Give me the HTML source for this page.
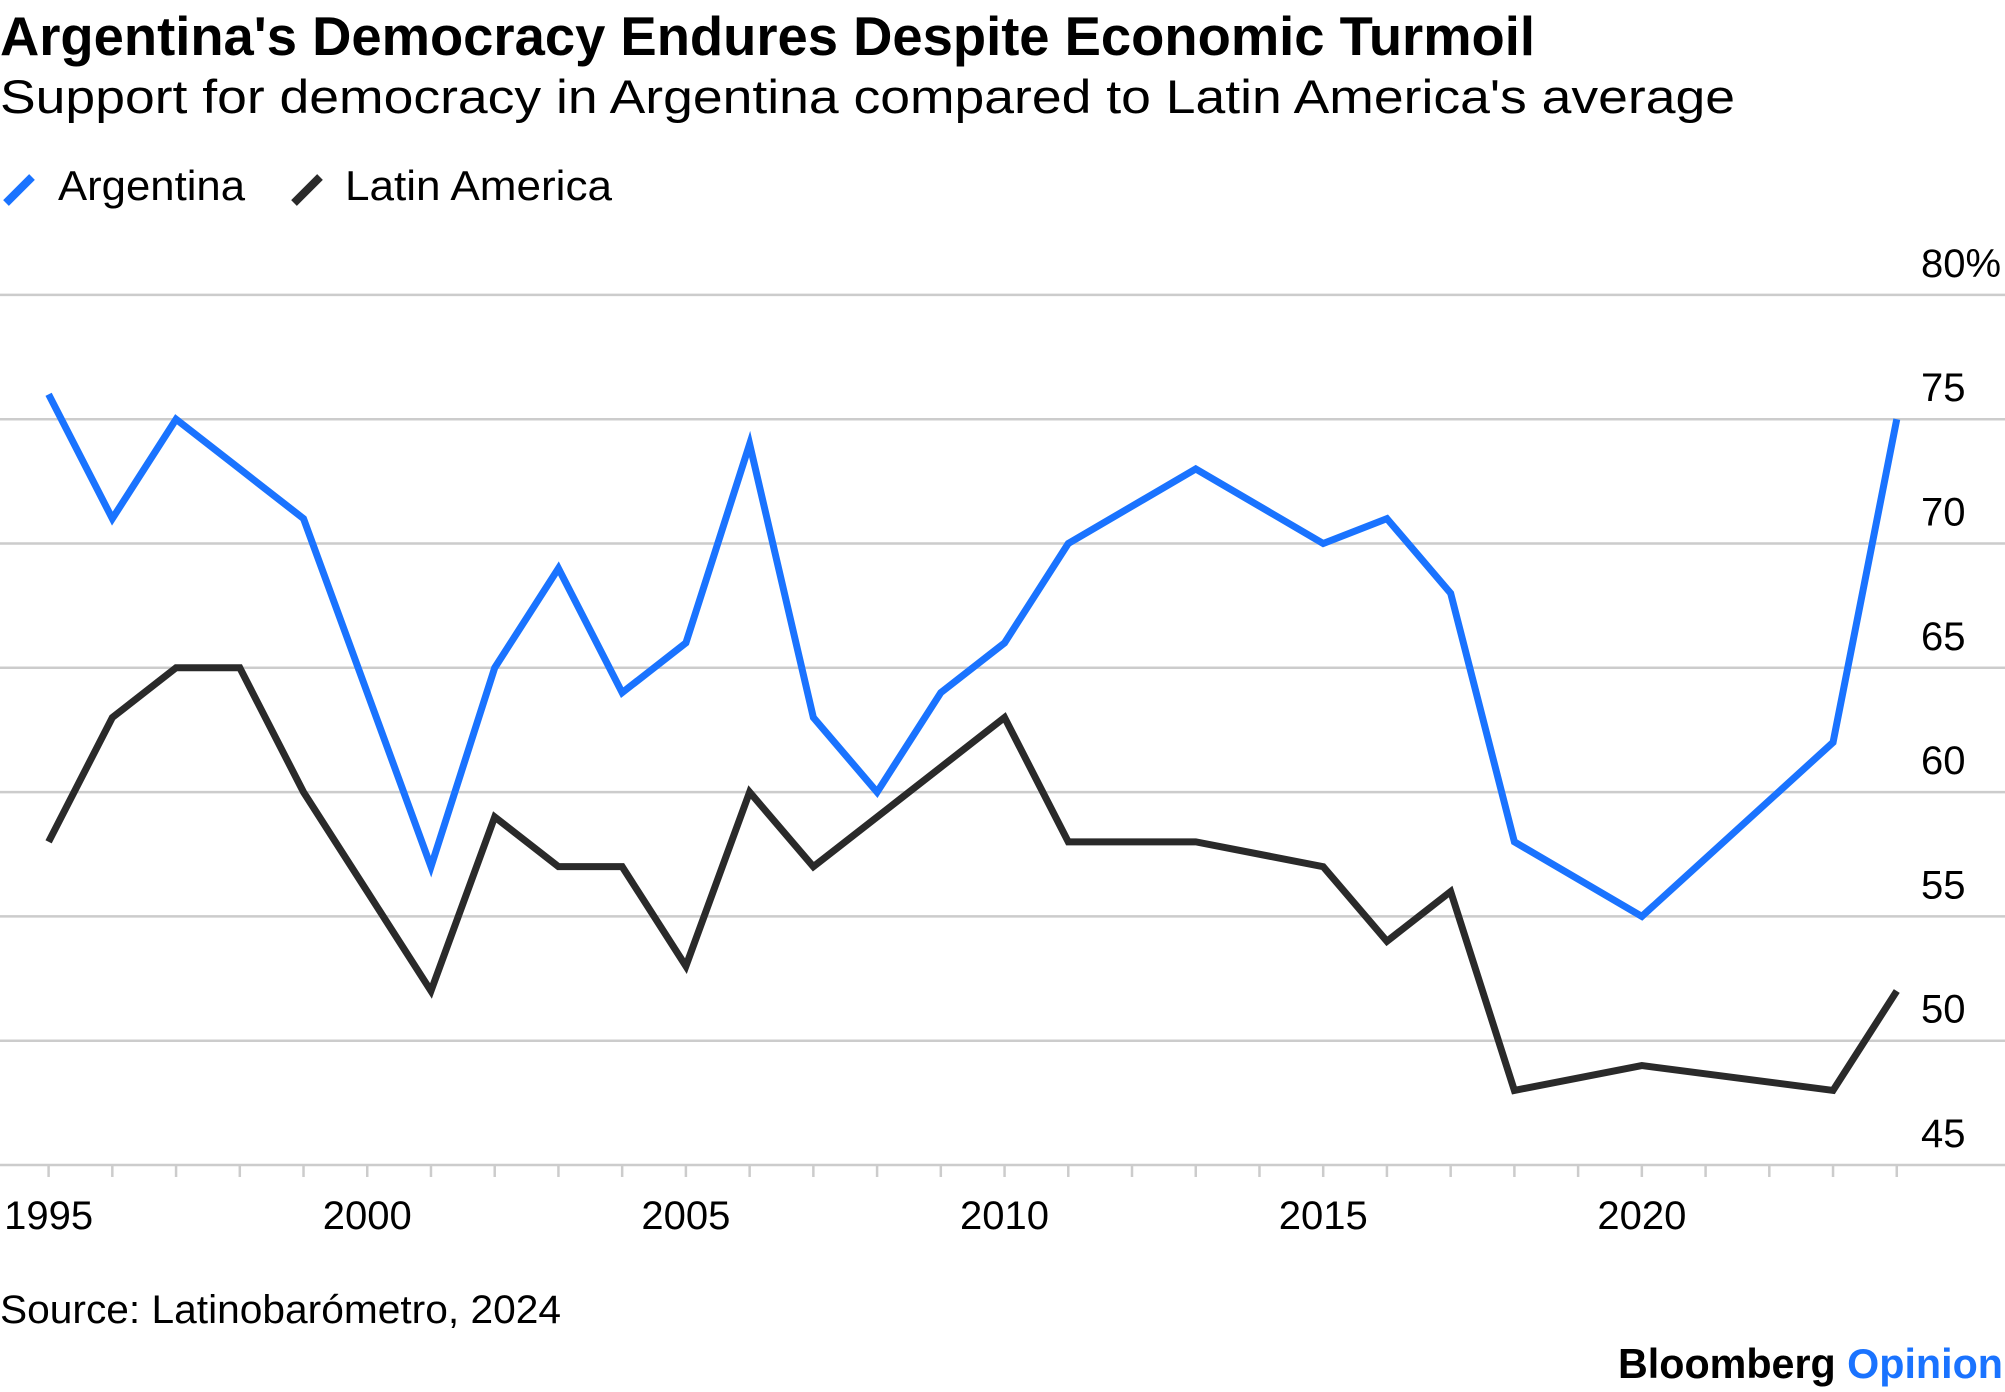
<!DOCTYPE html>
<html><head><meta charset="utf-8"><style>
html,body{margin:0;padding:0;background:#fff;}
svg{display:block;font-family:"Liberation Sans",Arial,sans-serif;}
</style></head><body>
<svg id="chart" width="2005" height="1392" viewBox="0 0 2005 1392" xmlns="http://www.w3.org/2000/svg">
<text x="0" y="55" font-size="55" font-weight="bold" fill="#000" textLength="1535" lengthAdjust="spacingAndGlyphs">Argentina's Democracy Endures Despite Economic Turmoil</text>
<text x="0" y="113" font-size="47" fill="#000" textLength="1735" lengthAdjust="spacingAndGlyphs">Support for democracy in Argentina compared to Latin America's average</text>
<g>
<g>
<line x1="6" y1="203" x2="32" y2="177" stroke="#1a73ff" stroke-width="8"/>
<text x="58" y="200" font-size="42" fill="#000" textLength="187" lengthAdjust="spacingAndGlyphs">Argentina</text>
</g>
<g>
<line x1="294" y1="203" x2="320" y2="177" stroke="#2a2a2a" stroke-width="8"/>
<text x="345" y="200" font-size="42" fill="#000" textLength="267" lengthAdjust="spacingAndGlyphs">Latin America</text>
</g>
</g>
<g id="grid"></g>
<g id="xaxis"></g>
<g id="series"></g>
<text x="0" y="1323" font-size="40" fill="#000" textLength="561" lengthAdjust="spacingAndGlyphs">Source: Latinobarómetro, 2024</text>
<text x="2003" y="1378" font-size="42" font-weight="bold" text-anchor="end" textLength="385" lengthAdjust="spacingAndGlyphs"><tspan fill="#000">Bloomberg </tspan><tspan fill="#1a73ff">Opinion</tspan></text>
</svg>
<script>
const argYears = [1995,1996,1997,1998,1999,2000,2001,2002,2003,2004,2005,2006,2007,2008,2009,2010,2011,2013,2015,2016,2017,2018,2020,2023,2024];
const argValues = [76,71,75,73,71,64,57,65,69,64,66,74,63,60,64,66,70,73,70,71,68,58,55,62,75];
const laYears = [1995,1996,1997,1998,1999,2000,2001,2002,2003,2004,2005,2006,2007,2008,2009,2010,2011,2013,2015,2016,2017,2018,2020,2023,2024];
const laValues = [58,63,65,65,60,56,52,59,57,57,53,60,57,59,61,63,58,58,57,54,56,48,49,48,52];
const yTicks = [45,50,55,60,65,70,75,80];
const yTickLabels = ["45","50","55","60","65","70","75","80%"];
const xTicks = [1995,2000,2005,2010,2015,2020];

const NS="http://www.w3.org/2000/svg";
function x(yr){return 48.6+(yr-1995)*63.73;}
function y(v){return 1165-(v-45)*24.86;}
function mk(tag,attrs,parent){const e=document.createElementNS(NS,tag);for(const k in attrs)e.setAttribute(k,attrs[k]);parent.appendChild(e);return e;}
const grid=document.getElementById('grid');
yTicks.forEach((t,i)=>{
  const l=mk('line',{x1:0,x2:2005,y1:y(t),y2:y(t),stroke:'#cccccc','stroke-width':2.5},grid);
  
  
  const tx=mk('text',{x:1921,y:y(t)-18,'font-size':40,fill:'#000'},grid);
  tx.textContent=yTickLabels[i];
  
  
});
const xa=document.getElementById('xaxis');
for(let yr=1995;yr<=2024;yr++){
  const tk=mk('line',{x1:x(yr),x2:x(yr),y1:1165,y2:1177,stroke:'#cccccc','stroke-width':2.5},xa);
  
  
}
xTicks.forEach(t=>{
  const tx=mk('text',{x:x(t),y:1229,'font-size':40,fill:'#000','text-anchor':'middle'},xa);
  tx.textContent=t;
  
  
});
const s=document.getElementById('series');
function line(ys,vs,col,name){
  const p=mk('polyline',{points:ys.map((yr,i)=>x(yr)+','+y(vs[i])).join(' '),fill:'none',stroke:col,'stroke-width':7,'stroke-linejoin':'miter','stroke-miterlimit':4},s);
  
  
}
line(laYears,laValues,'#2a2a2a','latin-america-line');
line(argYears,argValues,'#1a73ff','argentina-line');
</script>
</body></html>
